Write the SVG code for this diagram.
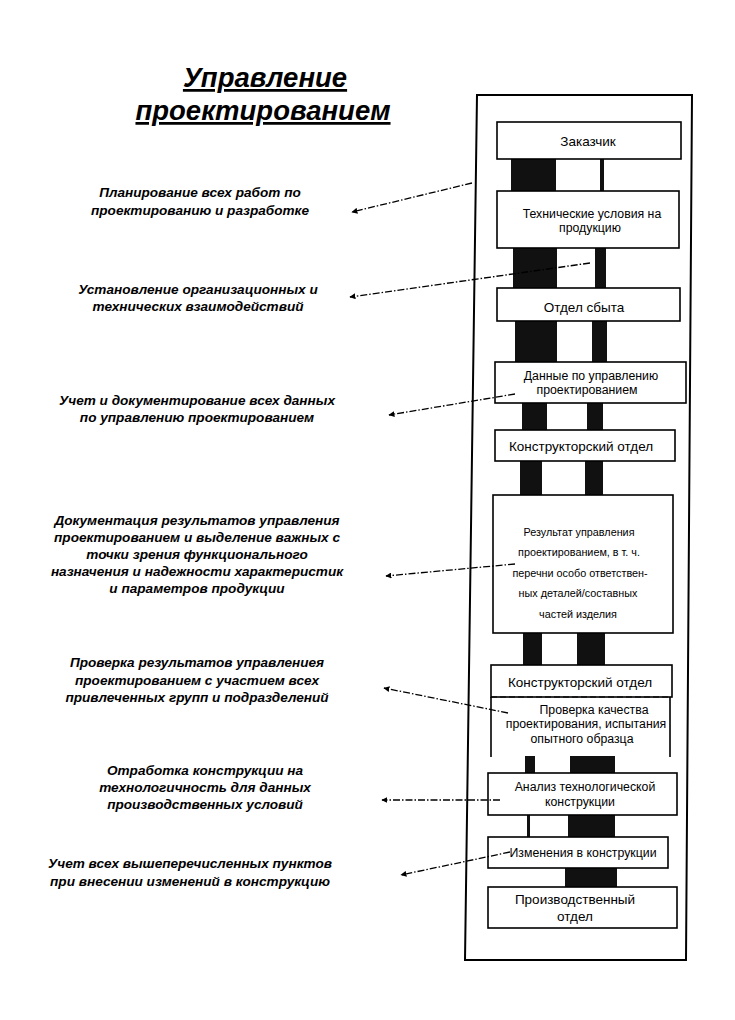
<svg xmlns="http://www.w3.org/2000/svg" width="735" height="1020" viewBox="0 0 735 1020">
<defs>
<style>
.t{font-family:"Liberation Sans",Arial,sans-serif;font-weight:bold;font-style:italic;font-size:13.6px;fill:#000;text-anchor:middle}
.h{font-family:"Liberation Sans",Arial,sans-serif;font-weight:bold;font-style:italic;font-size:27.5px;fill:#000;text-anchor:middle;text-decoration:underline}
.b{fill:#fff;stroke:#000;stroke-width:1.6}
.bt{font-family:"Liberation Sans",Arial,sans-serif;font-size:13.5px;fill:#000;text-anchor:middle}
.bs{font-family:"Liberation Sans",Arial,sans-serif;font-size:12.3px;fill:#000;text-anchor:middle}
.br{font-family:"Liberation Sans",Arial,sans-serif;font-size:10.8px;fill:#000;text-anchor:middle}
.bar{fill:#111}
.c{stroke:#000;stroke-width:1.3;fill:none;stroke-dasharray:7,2,1.5,2;marker-end:url(#ah)}
</style>
<marker id="ah" viewBox="0 0 10 10" refX="9" refY="5" markerWidth="6" markerHeight="6" orient="auto" markerUnits="userSpaceOnUse">
<path d="M0,0 L10,5 L0,10 z" fill="#000"/>
</marker>
</defs>
<rect width="735" height="1020" fill="#fff"/>

<g id="title">
<text class="h" x="265" y="87">Управление</text>
<text class="h" x="263" y="120">проектированием</text>
</g>

<g id="frame">
<polygon points="477,95 692,95 686,960 465,960" fill="none" stroke="#000" stroke-width="2"/>
</g>

<g id="bars">
<rect class="bar" x="511" y="158" width="45" height="33"/>
<rect class="bar" x="600" y="158" width="4" height="33"/>
<rect class="bar" x="513" y="248" width="44" height="41"/>
<rect class="bar" x="595" y="248" width="11" height="41"/>
<rect class="bar" x="515" y="320" width="42" height="43"/>
<rect class="bar" x="592" y="320" width="15" height="43"/>
<rect class="bar" x="522" y="403" width="25" height="28"/>
<rect class="bar" x="587" y="403" width="16" height="28"/>
<rect class="bar" x="520" y="460" width="22" height="36"/>
<rect class="bar" x="585" y="460" width="18" height="36"/>
<rect class="bar" x="523" y="633" width="19" height="33"/>
<rect class="bar" x="577" y="633" width="28" height="33"/>
<rect class="bar" x="525" y="756" width="10" height="18"/>
<rect class="bar" x="570" y="756" width="45" height="18"/>
<rect class="bar" x="527" y="815" width="3" height="23"/>
<rect class="bar" x="568" y="815" width="47" height="23"/>
<rect class="bar" x="565" y="868" width="52" height="20"/>
</g>

<g id="n1"><rect class="b" x="497" y="122" width="184" height="37"/><text class="bt" x="588" y="146">Заказчик</text></g>
<g id="n2"><rect class="b" x="497" y="191" width="182" height="57"/><text class="bs" x="592" y="218">Технические условия на</text><text class="bs" x="590" y="232">продукцию</text></g>
<g id="n3"><rect class="b" x="497" y="288" width="183" height="33"/><text class="bt" x="584" y="312">Отдел сбыта</text></g>
<g id="n4"><rect class="b" x="495" y="362" width="191" height="41"/><text class="bs" x="591" y="380">Данные по управлению</text><text class="bs" x="587" y="394">проектированием</text></g>
<g id="n5"><rect class="b" x="495" y="430" width="180" height="31"/><text class="bt" x="581" y="451">Конструкторский отдел</text></g>
<g id="n6"><rect class="b" x="493" y="495" width="180" height="138"/>
<text class="br" x="579" y="536">Результат управления</text>
<text class="br" x="579" y="556">проектированием, в т. ч.</text>
<text class="br" x="580" y="577">перечни особо ответствен-</text>
<text class="br" x="578" y="597">ных деталей/составных</text>
<text class="br" x="578" y="618">частей изделия</text></g>
<g id="n7"><rect class="b" x="491" y="665" width="181" height="32"/><text class="bt" x="580" y="687">Конструкторский отдел</text></g>
<g id="n8"><path d="M491,697 V757 M670,697 V757" stroke="#000" stroke-width="1.6" fill="none"/><path d="M491,697 H670" stroke="#000" stroke-width="1" stroke-dasharray="6,3" fill="none"/>
<text class="bs" x="594" y="714">Проверка качества</text>
<text class="bs" x="586" y="728">проектирования, испытания</text>
<text class="bs" x="582" y="743">опытного образца</text></g>
<g id="n9"><rect class="b" x="488" y="773" width="189" height="42"/><text class="bs" x="585" y="791">Анализ технологической</text><text class="bs" x="580" y="806">конструкции</text></g>
<g id="n10"><rect class="b" x="488" y="837" width="180" height="31"/><text class="bs" x="583" y="857">Изменения в конструкции</text></g>
<g id="n11"><rect class="b" x="488" y="887" width="189" height="41"/><text class="bt" x="575" y="904">Производственный</text><text class="bt" x="575" y="921">отдел</text></g>

<g id="labels">
<text class="t" x="200" y="197">Планирование всех работ по</text>
<text class="t" x="200" y="215">проектированию и разработке</text>
<text class="t" x="198" y="294">Установление организационных и</text>
<text class="t" x="198" y="311">технических взаимодействий</text>
<text class="t" x="197" y="405">Учет и документирование всех данных</text>
<text class="t" x="197" y="422">по управлению проектированием</text>
<text class="t" x="197" y="525">Документация результатов управления</text>
<text class="t" x="197" y="542">проектированием и выделение важных с</text>
<text class="t" x="197" y="559">точки зрения функционального</text>
<text class="t" x="197" y="576">назначения и надежности характеристик</text>
<text class="t" x="197" y="593">и параметров продукции</text>
<text class="t" x="197" y="667">Проверка результатов управлениея</text>
<text class="t" x="197" y="685">проектированием с участием всех</text>
<text class="t" x="197" y="702">привлеченных групп и подразделений</text>
<text class="t" x="205" y="775">Отработка конструкции на</text>
<text class="t" x="205" y="792">технологичность для данных</text>
<text class="t" x="205" y="809">производственных условий</text>
<text class="t" x="190" y="868">Учет всех вышеперечисленных пунктов</text>
<text class="t" x="190" y="886">при внесении изменений в конструкцию</text>
</g>

<g id="connectors">
<path class="c" d="M472,183 L352,212"/>
<path class="c" d="M590,263 L350,297"/>
<path class="c" d="M515,394 L389,415"/>
<path class="c" d="M515,564 L386,576"/>
<path class="c" d="M508,713 L384,688"/>
<path class="c" d="M500,800 L382,800"/>
<path class="c" d="M510,852 L401,875"/>
</g>
</svg>
